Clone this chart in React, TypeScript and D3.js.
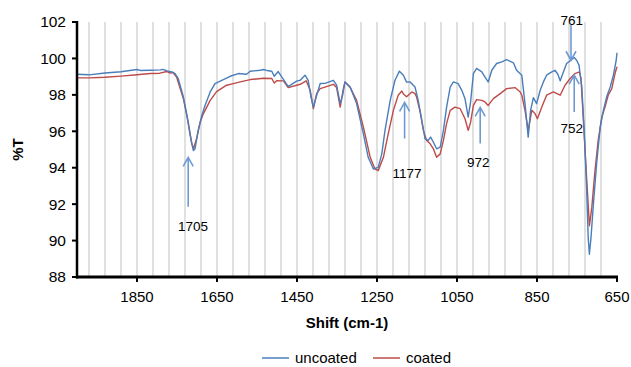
import React from "react";
import * as d3 from "d3";

const WIDTH = 631;
const HEIGHT = 367;

// Wavenumber (cm-1) and %T for the "uncoated" series
const uncoatedWn = [2000, 1970, 1930, 1890, 1850, 1842, 1817, 1792, 1785, 1775, 1760, 1755, 1747, 1734, 1726, 1717, 1709, 1705, 1697, 1688, 1680, 1667, 1655, 1638, 1617, 1597, 1576, 1567, 1542, 1534, 1522, 1513, 1507, 1497, 1484, 1472, 1451, 1442, 1430, 1422, 1415, 1409, 1402, 1392, 1380, 1359, 1351, 1342, 1336, 1330, 1317, 1301, 1284, 1272, 1259, 1247, 1238, 1230, 1217, 1205, 1194, 1184, 1176, 1167, 1155, 1147, 1138, 1130, 1122, 1116, 1109, 1101, 1092, 1084, 1076, 1067, 1059, 1047, 1038, 1030, 1022, 1016, 1009, 1001, 988, 980, 972, 963, 951, 938, 926, 909, 901, 888, 880, 872, 866, 859, 851, 842, 834, 826, 813, 805, 798, 792, 784, 776, 763, 757, 751, 745, 738, 732, 726, 722, 719, 715, 709, 701, 692, 684, 676, 667, 659, 652, 650];
const uncoatedT = [99.13, 99.1, 99.2, 99.27, 99.39, 99.34, 99.35, 99.37, 99.4, 99.32, 99.24, 99.17, 98.9, 97.88, 96.97, 95.77, 94.94, 95.04, 96.05, 96.87, 97.42, 98.16, 98.62, 98.8, 99.02, 99.17, 99.13, 99.3, 99.35, 99.39, 99.32, 99.3, 99.02, 99.28, 98.85, 98.45, 98.75, 98.8, 99.08, 98.8, 97.88, 97.33, 97.88, 98.62, 98.63, 98.8, 98.53, 97.52, 97.98, 98.71, 98.43, 97.52, 95.86, 94.57, 93.93, 94.02, 94.76, 96.05, 97.7, 98.8, 99.3, 99.08, 98.7, 98.71, 98.43, 97.7, 96.6, 95.59, 95.5, 95.68, 95.4, 95.04, 95.13, 96.05, 97.33, 98.43, 98.71, 98.62, 98.25, 97.79, 96.78, 97.61, 99.17, 99.45, 99.26, 98.98, 98.71, 99.35, 99.72, 99.81, 99.94, 99.76, 99.35, 99.08, 97.52, 95.68, 97.15, 97.85, 97.52, 98.25, 98.71, 99.08, 99.26, 99.35, 99.13, 98.77, 99.26, 99.72, 99.94, 100.05, 99.9, 99.63, 98.43, 96.05, 92.92, 90.16, 89.25, 90.16, 92.0, 94.21, 96.23, 97.15, 97.88, 98.43, 99.08, 99.9, 100.31];

// Wavenumber (cm-1) and %T for the "coated" series
const coatedWn = [2000, 1970, 1930, 1890, 1850, 1817, 1793, 1775, 1767, 1760, 1751, 1734, 1722, 1713, 1709, 1701, 1692, 1684, 1667, 1651, 1626, 1609, 1592, 1567, 1534, 1513, 1507, 1501, 1484, 1472, 1442, 1427, 1417, 1409, 1401, 1392, 1359, 1351, 1342, 1334, 1330, 1317, 1301, 1284, 1267, 1255, 1247, 1234, 1222, 1209, 1197, 1188, 1184, 1176, 1163, 1155, 1151, 1142, 1134, 1126, 1117, 1109, 1101, 1092, 1084, 1076, 1067, 1055, 1042, 1030, 1022, 1016, 1009, 1001, 988, 980, 972, 959, 942, 926, 905, 892, 888, 880, 872, 863, 855, 849, 838, 826, 809, 792, 780, 767, 755, 744, 740, 734, 726, 719, 713, 705, 697, 688, 680, 672, 663, 655, 650];
const coatedT = [98.93, 98.93, 98.97, 99.03, 99.1, 99.17, 99.19, 99.28, 99.2, 99.22, 98.98, 97.79, 96.5, 95.31, 95.04, 95.59, 96.5, 96.97, 97.7, 98.18, 98.53, 98.62, 98.71, 98.84, 98.91, 98.9, 98.65, 98.78, 98.77, 98.4, 98.58, 98.77, 98.25, 97.24, 98.07, 98.34, 98.58, 98.4, 97.33, 98.34, 98.71, 98.4, 97.7, 96.23, 94.57, 93.93, 93.84, 94.57, 95.86, 97.15, 97.98, 98.21, 98.05, 97.9, 98.16, 98.07, 97.88, 97.06, 96.05, 95.5, 95.31, 95.04, 94.57, 94.76, 95.5, 96.42, 97.15, 97.33, 97.24, 96.69, 96.05, 96.5, 97.42, 97.74, 97.7, 97.61, 97.42, 97.79, 98.07, 98.34, 98.4, 98.16, 97.98, 97.15, 96.05, 97.15, 96.97, 96.69, 97.33, 97.98, 98.16, 97.98, 98.53, 98.9, 99.17, 99.26, 98.9, 96.6, 93.47, 90.81, 91.82, 93.84, 95.5, 96.78, 97.33, 97.98, 98.34, 99.17, 99.54];

const seriesNames = ["uncoated", "coated"];
const seriesColors = ["#4a7ebb", "#be4b48"];

const yTicks = [88, 90, 92, 94, 96, 98, 100, 102];
const xTicks = [1850, 1650, 1450, 1250, 1050, 850, 650];
const gridValues = d3.range(690, 2000, 40);

// Annotation arrows: arrow x (cm-1), tail and tip (%T), label position
const annLabels = ["1705", "1177", "972", "761", "752"];
const annArrowWn = [1722, 1181, 992, 765, 757];
const annTail = [91.86, 95.6, 95.33, 101.83, 97.06];
const annTip = [94.57, 97.59, 97.31, 99.9, 99.08];
const annLabelWn = [1710, 1175, 997, 763, 763];
const annLabelT = [90.8, 93.68, 94.28, 102.07, 96.17];

export default function App() {
  const margin = { left: 77, top: 22, right: 14, bottom: 90 };
  const x = d3.scaleLinear().domain([2000, 650]).range([margin.left, WIDTH - margin.right]);
  const y = d3.scaleLinear().domain([88, 102]).range([HEIGHT - margin.bottom, margin.top]);
  const line = d3
    .line<[number, number]>()
    .x((d) => x(d[0]))
    .y((d) => y(d[1]));

  const series = [
    uncoatedWn.map((w, i) => [w, uncoatedT[i]] as [number, number]),
    coatedWn.map((w, i) => [w, coatedT[i]] as [number, number]),
  ];

  const font = "Arial, 'Liberation Sans', sans-serif";
  const arrowColor = "#6f9bd3";
  const x0 = x(2000);
  const x1 = x(650);
  const yb = y(88);
  const yt = y(102);

  return (
    <svg
      width={WIDTH}
      height={HEIGHT}
      style={{ position: "absolute", left: 0, top: 0, background: "#fff" }}
      fontFamily={font}
    >
      <rect x={0} y={0} width={WIDTH} height={HEIGHT} fill="#fff" />
      {gridValues.map((g) => (
        <line key={g} x1={x(g)} x2={x(g)} y1={yt} y2={yb} stroke="#d6d6d6" strokeWidth={1.5} />
      ))}
      {/* series */}
      {[1, 0].map((si) => (
        <path key={si} d={line(series[si]) || ""} fill="none" stroke={seriesColors[si]} strokeWidth={1.4} strokeLinejoin="round" />
      ))}
      {/* axes */}
      <line x1={x0} x2={x0} y1={yt - 1} y2={yb + 1.5} stroke="#000" strokeWidth={2.5} />
      <line x1={x0 - 1} x2={x1 + 1} y1={yb} y2={yb} stroke="#000" strokeWidth={3} />
      {yTicks.map((t) => (
        <g key={t}>
          <line x1={x0 - 5} x2={x0} y1={y(t)} y2={y(t)} stroke="#000" strokeWidth={2} />
          <text x={x0 - 11} y={y(t)} dy="0.35em" textAnchor="end" fontSize={15.5} fill="#000">
            {t}
          </text>
        </g>
      ))}
      {xTicks.map((t) => (
        <g key={t}>
          <line x1={x(t)} x2={x(t)} y1={yb} y2={yb + 5} stroke="#000" strokeWidth={2} />
          <text x={x(t)} y={yb + 20} dy="0.35em" textAnchor="middle" fontSize={15} fill="#000">
            {t}
          </text>
        </g>
      ))}
      <text x={(x0 + x1) / 2} y={yb + 46} dy="0.35em" textAnchor="middle" fontSize={15} fontWeight="bold">
        Shift (cm-1)
      </text>
      <text
        transform={`translate(18,${(yt + yb) / 2}) rotate(-90)`}
        dy="0.35em"
        textAnchor="middle"
        fontSize={15}
        fontWeight="bold"
      >
        %T
      </text>
      {/* annotations */}
      {annLabels.map((lab, i) => {
        const ax = x(annArrowWn[i]);
        const tail = y(annTail[i]);
        const tip = y(annTip[i]);
        const dir = tip < tail ? 1 : -1;
        return (
          <g key={lab}>
            <path
              d={`M${ax},${tail}L${ax},${tip}M${ax - 5},${tip + dir * 9}L${ax},${tip}L${ax + 5},${tip + dir * 9}`}
              fill="none"
              stroke={arrowColor}
              strokeWidth={1.6}
            />
            <text x={x(annLabelWn[i])} y={y(annLabelT[i])} dy="0.35em" textAnchor="middle" fontSize={13.5} fill="#000">
              {lab}
            </text>
          </g>
        );
      })}
      {/* legend */}
      {seriesNames.map((n, i) => {
        const lx = i === 0 ? 262 : 373;
        return (
          <g key={n}>
            <line x1={lx} x2={lx + 27} y1={358} y2={358} stroke={seriesColors[i]} strokeWidth={1.5} />
            <text x={lx + 33} y={358} dy="0.35em" fontSize={15} fill="#000">
              {n}
            </text>
          </g>
        );
      })}
    </svg>
  );
}
